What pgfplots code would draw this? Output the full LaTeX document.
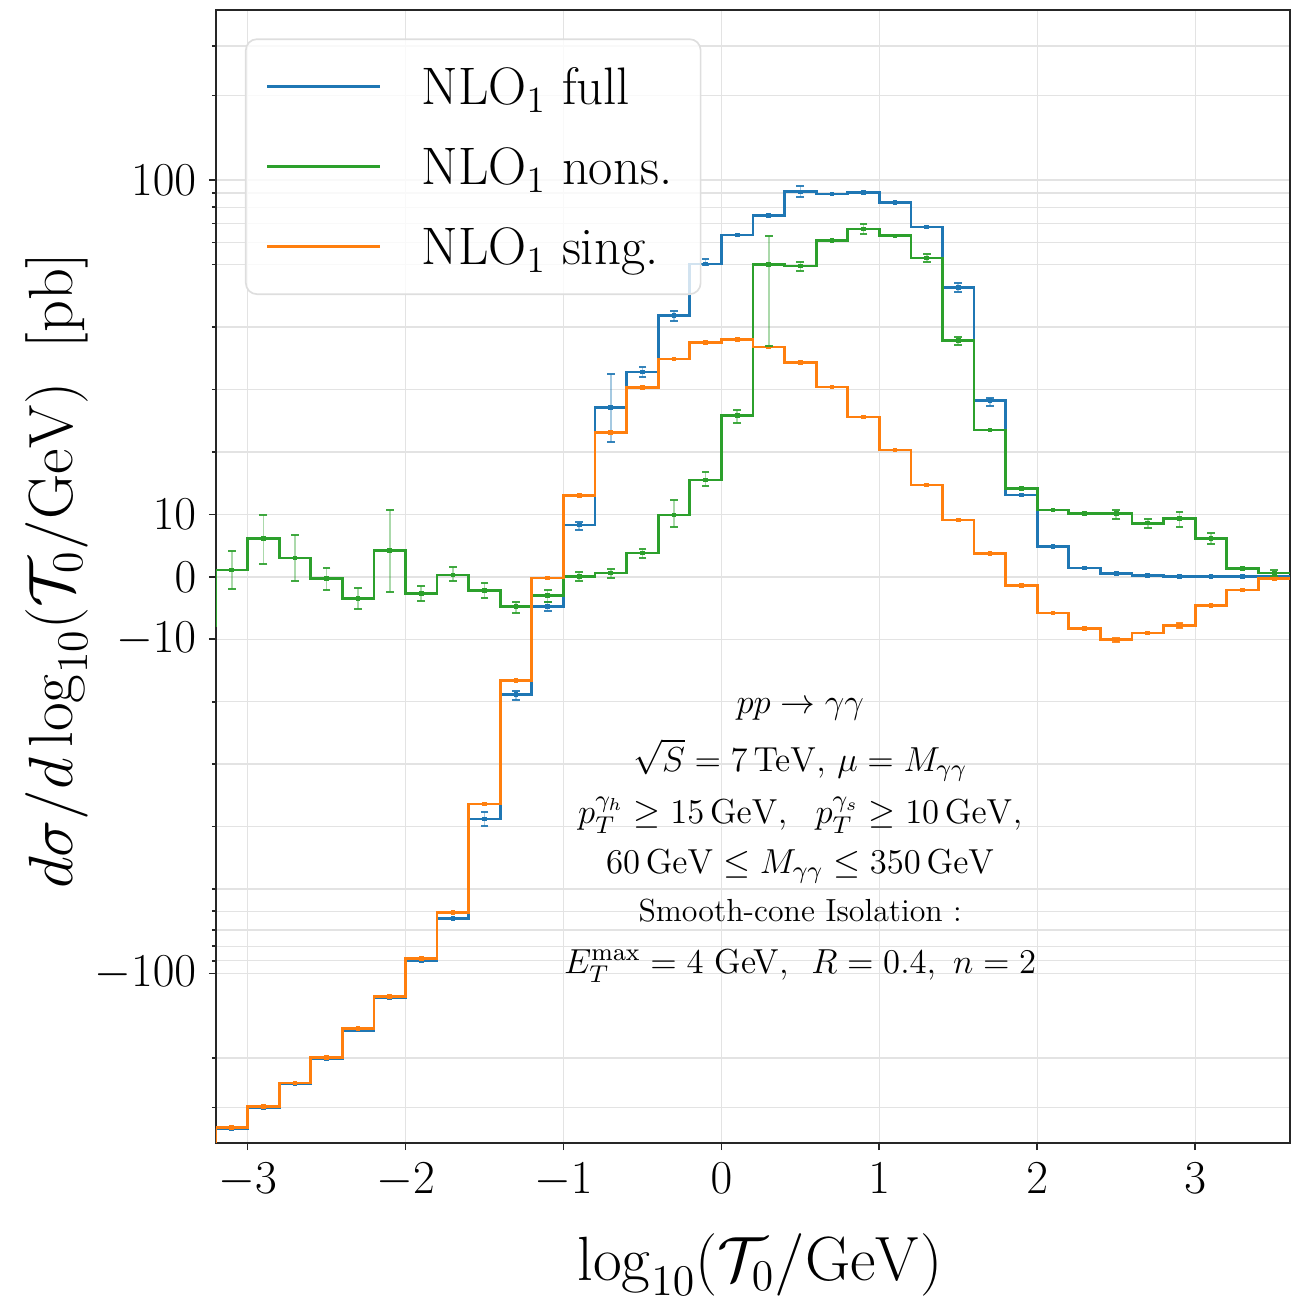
\RequirePackage{fix-cm}
\documentclass[border=0pt]{standalone}
\usepackage{pgfplots}
\usepackage{pgfplotstable}
\pgfplotsset{compat=1.18}
\usepackage{amsmath}
\definecolor{tabblue}{HTML}{1F77B4}
\definecolor{taborange}{HTML}{FF7F0E}
\definecolor{tabgreen}{HTML}{2CA02C}

\pgfplotstableread{
x y
-3.2 -357
-3.0 -301
-2.8 -247
-2.6 -201
-2.4 -159
-2.2 -122
-2.0 -90
-1.8 -63.8
-1.6 -38.8
-1.4 -18.9
-1.2 -4.8
-1.0 8.3
-0.8 27.1
-0.6 32.8
-0.4 41.8
-0.2 50.3
0.0 63.8
0.2 74.6
0.4 90.8
0.6 89.3
0.8 90.1
1.0 83.0
1.2 68.1
1.4 46.3
1.6 28.2
1.8 13.1
2.0 4.8
2.2 1.4
2.4 0.5
2.6 0.2
2.8 0.05
3.0 0.0
3.2 0.0
3.4 0.0
3.6 0.0
}\fulltab

\pgfplotstableread{
x y
-3.2 1.1
-3.0 6.1
-2.8 3.0
-2.6 -0.3
-2.4 -3.5
-2.2 4.2
-2.0 -2.7
-1.8 0.3
-1.6 -2.2
-1.4 -4.8
-1.2 -3.0
-1.0 0.0
-0.8 0.6
-0.6 3.8
-0.4 9.9
-0.2 15.5
0.0 25.8
0.2 50.0
0.4 49.8
0.6 60.8
0.8 67.0
1.0 63.3
1.2 52.8
1.4 37.8
1.6 23.5
1.8 14.1
2.0 10.7
2.2 10.1
2.4 10.1
2.6 8.6
2.8 9.3
3.0 6.1
3.2 1.3
3.4 0.6
3.6 0.6
}\nonstab

\pgfplotstableread{
x y
-3.2 -354
-3.0 -298
-2.8 -245
-2.6 -199
-2.4 -157
-2.2 -121
-2.0 -88.5
-1.8 -60.8
-1.6 -36.4
-1.4 -16.6
-1.2 -0.2
-1.0 13.0
-0.8 23.1
-0.6 30.3
-0.4 34.9
-0.2 37.5
0.0 38.0
0.2 36.8
0.4 34.3
0.6 30.4
0.8 25.6
1.0 20.3
1.2 14.7
1.4 9.1
1.6 3.7
1.8 -1.4
2.0 -5.8
2.2 -8.3
2.4 -10.1
2.6 -9.0
2.8 -7.8
3.0 -4.6
3.2 -2.1
3.4 -0.3
3.6 -0.3
}\singtab

% error bar: colour, x, low, high
\newcommand{\eb}[4]{%
  \addplot[#1, opacity=0.4, line width=0.6pt, forget plot] coordinates {(#2,#3) (#2,#4)};
  \addplot[#1, only marks, mark=-, mark size=1.4pt, mark options={line width=0.7pt, opacity=0.9}, forget plot] coordinates {(#2,#3) (#2,#4)};
}

\begin{document}
\begin{tikzpicture}
\begin{axis}[
  y coord trafo/.code={\begingroup\pgfkeys{/pgf/fpu=true,/pgf/fpu/output format=fixed}%
      \pgfmathparse{abs(#1)<=50 ? (#1)/45 : ((#1)>0 ? 1 : -1)*(1.1111111+log10(max(abs(#1),50)/50))}%
      \xdef\mysymtmp{\pgfmathresult}\endgroup\let\pgfmathresult\mysymtmp},
  y coord inv trafo/.code={\begingroup\pgfkeys{/pgf/fpu=true,/pgf/fpu/output format=fixed}%
      \pgfmathparse{abs(#1)<=1.1111111 ? (#1)*45 : ((#1)>0 ? 1 : -1)*50*10^(max(abs(#1),1.1111111)-1.1111111)}%
      \xdef\mysymtmp{\pgfmathresult}\endgroup\let\pgfmathresult\mysymtmp},
  scale only axis, width=386.64pt, height=407.88pt,
  xmin=-3.2, xmax=3.6, ymin=-401, ymax=403,
  xtick={-3,-2,-1,0,1,2,3},
  ytick={-100,-10,0,10,100},
  yticklabels={$-100$,$-10$,$0$,$10$,$100$},
  minor ytick={-300,-200,-90,-80,-70,-60,-50,-40,-30,-20,20,30,40,50,60,70,80,90,200,300},
  xtick pos=bottom, ytick pos=left, tick align=outside,
  major tick length=2.6pt, minor tick length=1.5pt,
  tick style={black!85, line width=0.6pt},
  axis line style={black!85, line width=0.6pt},
  grid=both,
  major grid style={black!11, line width=0.5pt},
  minor grid style={black!11, line width=0.5pt},
  ticklabel style={font=\fontsize{17}{20}\selectfont},
  xticklabel style={yshift=-1pt},
  yticklabel style={xshift=-1pt},
  xlabel={$\log_{10}(\mathcal{T}_0/\mathrm{GeV})$},
  ylabel={$d\sigma/d\log_{10}(\mathcal{T}_0/\mathrm{GeV})\;\;[\mathrm{pb}]$},
  label style={font=\fontsize{22.5}{26}\selectfont},
  xlabel style={at={(axis description cs:0.5065,-0.1215)}, anchor=base},
  ylabel style={at={(axis description cs:-0.148,0.505)}, anchor=center},
  legend cell align=left,
  legend image code/.code={\draw[#1, line width=1pt] (0pt,0pt) -- (40.7pt,0pt);},
  legend style={at={(0.027,0.975)}, anchor=north west, draw=black!13, line width=0.6pt,
    rounded corners=4pt, fill=white, fill opacity=0.8, text opacity=1, draw opacity=1,
    font=\fontsize{19}{23}\selectfont, inner xsep=7.2pt, inner ysep=8.6pt,
    row sep=11.8pt, column sep=14.4pt,
    nodes={inner sep=0pt, text height=15pt, text depth=2pt}},
]
\addplot[tabblue, line width=1pt, const plot mark left] table[x=x,y=y] {\fulltab};
\addlegendentry{NLO$_1$ full\hspace*{3pt}}
\addplot[tabgreen, line width=1pt, const plot mark left] table[x=x,y=y] {\nonstab};
\addlegendentry{NLO$_1$ nons.\hspace*{3pt}}
\addplot[taborange, line width=1pt, const plot mark left] table[x=x,y=y] {\singtab};
\addlegendentry{NLO$_1$ sing.\hspace*{3pt}}

\addplot[tabblue, line width=1pt, forget plot] coordinates {(-3.2,-401) (-3.2,-357)};
\addplot[tabgreen, line width=1pt, forget plot] coordinates {(-3.2,-8) (-3.2,1.1)};
\addplot[taborange, line width=1pt, forget plot] coordinates {(-3.2,-401) (-3.2,-354)};

% bin-centre markers
\addplot[tabblue, only marks, mark=square*, mark size=0.65pt, forget plot, skip coords between index={34}{35}] table[x expr=\thisrow{x}+0.1, y=y] {\fulltab};
\addplot[tabgreen, only marks, mark=square*, mark size=0.65pt, forget plot, skip coords between index={34}{35}] table[x expr=\thisrow{x}+0.1, y=y] {\nonstab};
\addplot[taborange, only marks, mark=square*, mark size=0.65pt, forget plot, skip coords between index={34}{35}] table[x expr=\thisrow{x}+0.1, y=y] {\singtab};

% error bars: full
\eb{tabblue}{-1.5}{-39.9}{-37.6}
\eb{tabblue}{-1.3}{-19.7}{-18.3}
\eb{tabblue}{-1.1}{-5.4}{-4.0}
\eb{tabblue}{-0.9}{7.5}{8.8}
\eb{tabblue}{-0.7}{21.6}{32.5}
\eb{tabblue}{-0.5}{32.0}{33.6}
\eb{tabblue}{-0.3}{41.0}{42.6}
\eb{tabblue}{-0.1}{50.0}{52.4}
\eb{tabblue}{0.5}{87.1}{95.3}
\eb{tabblue}{1.5}{45.6}{47.1}
\eb{tabblue}{1.7}{27.4}{28.7}
% error bars: nons.
\eb{tabgreen}{-3.1}{-1.9}{4.2}
\eb{tabgreen}{-2.9}{2.1}{9.9}
\eb{tabgreen}{-2.7}{-0.6}{6.7}
\eb{tabgreen}{-2.5}{-2.1}{1.4}
\eb{tabgreen}{-2.3}{-5.1}{-1.8}
\eb{tabgreen}{-2.1}{-2.4}{10.7}
\eb{tabgreen}{-1.9}{-3.8}{-1.4}
\eb{tabgreen}{-1.7}{-0.6}{1.6}
\eb{tabgreen}{-1.5}{-3.4}{-1.0}
\eb{tabgreen}{-1.3}{-5.8}{-4.0}
\eb{tabgreen}{-1.1}{-4.0}{-2.1}
\eb{tabgreen}{-0.9}{-0.6}{0.8}
\eb{tabgreen}{-0.7}{-0.2}{1.3}
\eb{tabgreen}{-0.5}{3.0}{4.5}
\eb{tabgreen}{-0.3}{8.0}{12.3}
\eb{tabgreen}{-0.1}{14.6}{16.8}
\eb{tabgreen}{0.1}{24.7}{26.7}
\eb{tabgreen}{0.3}{37.0}{63.3}
\eb{tabgreen}{0.5}{49.0}{51.2}
\eb{tabgreen}{0.9}{64.4}{69.8}
\eb{tabgreen}{1.3}{51.2}{54.6}
\eb{tabgreen}{1.5}{37.2}{38.4}
\eb{tabgreen}{2.5}{9.3}{10.7}
\eb{tabgreen}{2.7}{7.8}{9.3}
\eb{tabgreen}{2.9}{8.0}{10.4}
\eb{tabgreen}{3.1}{5.3}{7.0}
\eb{tabgreen}{3.5}{0.2}{1.1}
% error bars: sing.
\eb{taborange}{2.5}{-10.4}{-9.8}
\eb{taborange}{2.9}{-8.2}{-7.4}

% annotation
\begin{scope}[every node/.style={font=\fontsize{12.5}{15}\selectfont, anchor=base, inner sep=0pt}]
\node at (rel axis cs:0.544,0.3795) {$pp\to\gamma\gamma$};
\node at (rel axis cs:0.544,0.3283) {$\sqrt{S}=7\,\mathrm{TeV},\,\mu=M_{\gamma\gamma}$};
\node at (rel axis cs:0.544,0.2816) {$p_T^{\gamma_h}\geq 15\,\mathrm{GeV},\ \ p_T^{\gamma_s}\geq 10\,\mathrm{GeV},$};
\node at (rel axis cs:0.544,0.2383) {$60\,\mathrm{GeV}\leq M_{\gamma\gamma}\leq 350\,\mathrm{GeV}$};
\node[font=\fontsize{11.5}{14}\selectfont] at (rel axis cs:0.544,0.1959) {Smooth-cone Isolation :};
\node at (rel axis cs:0.544,0.1500) {$E_T^{\max}=4$ GeV, \ $R=0.4,\ n=2$};
\end{scope}
\end{axis}
\pgfresetboundingbox
\path[use as bounding box] (-77.76pt,-56.16pt) rectangle (387pt,411.5pt);
\end{tikzpicture}
\end{document}
